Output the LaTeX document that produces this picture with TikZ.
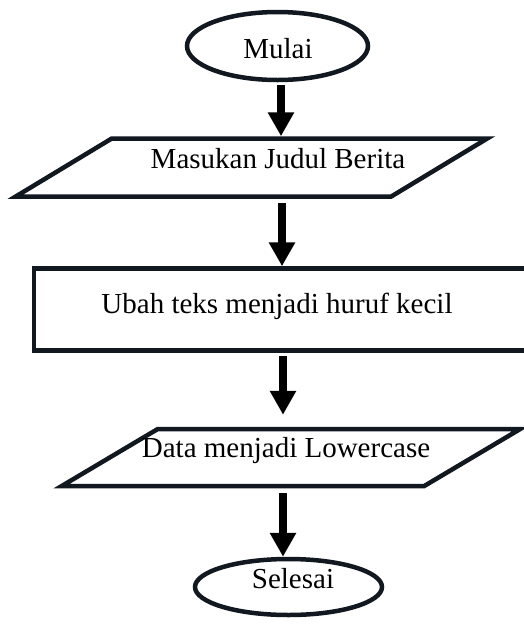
\documentclass[tikz,border=0pt]{standalone}
\usepackage{fontspec}
\setmainfont{Liberation Serif}
\usetikzlibrary{shapes.geometric,arrows.meta}
\definecolor{edge}{HTML}{111820}
\begin{document}
\begin{tikzpicture}[x=1pt,y=-1pt,
  outline/.style={draw=edge,line width=4.5pt,line join=miter},
  term/.style={outline,ellipse,inner sep=0pt},
  frame/.style={inner sep=0pt,outer sep=2.25pt},
  txt/.style={font=\fontsize{29}{34}\selectfont,inner sep=0pt,anchor=base},
  flow/.style={line width=8.5pt,-{Triangle[length=24pt,width=25pt]}}]
\useasboundingbox (0,0) rectangle (524,625);
\clip (0,0) rectangle (524,625);
\fill[white] (0,0) rectangle (524,625);

% axis of the connectors
\coordinate (axA) at (281,0);
\coordinate (axB) at (282,0);
\coordinate (axC) at (283,0);

% start terminal
\node[term,minimum width=181pt,minimum height=68pt] (start) at (277.5,46) {};
\node[txt] (tstart) at (278,58) {Mulai};

% input: news title
\node[frame,minimum width=371pt,minimum height=58pt] (in1) at (251.5,167.5) {};
\draw[outline] ([xshift=48pt,yshift=-2.25pt]in1.north west) -- ([xshift=48pt,yshift=-2.25pt]in1.north east)
  -- ([xshift=-48pt,yshift=2.25pt]in1.south east) -- ([xshift=-48pt,yshift=2.25pt]in1.south west) -- cycle;
\node[txt] (tin1) at (278,168) {Masukan Judul Berita};

% process: lowercase conversion
\node[outline,rectangle,inner sep=0pt,minimum width=506pt,minimum height=82pt] (proc) at (287,309.5) {};
\node[txt] (tproc) at (277,313) {Ubah teks menjadi huruf kecil};

% output: lowercase data
\node[frame,minimum width=358pt,minimum height=57pt] (out1) at (291,457.5) {};
\draw[outline] ([xshift=48pt,yshift=-2.25pt]out1.north west) -- ([xshift=48pt,yshift=-2.25pt]out1.north east)
  -- ([xshift=-48pt,yshift=2.25pt]out1.south east) -- ([xshift=-48pt,yshift=2.25pt]out1.south west) -- cycle;
\node[txt] (tout1) at (286,457) {Data menjadi Lowercase};

% end terminal
\node[term,minimum width=187pt,minimum height=56pt] (stop) at (288.5,587) {};
\node[txt] (tstop) at (293,588) {Selesai};

% connectors
\draw[flow] ([yshift=-3pt]start.south -| axA) -- (in1.north -| axA);
\draw[flow] ([yshift=-4.5pt]in1.south -| axB) -- (proc.north -| axB);
\draw[flow] ([yshift=-3.5pt]proc.south -| axC) -- ([yshift=12pt]out1.north -| axC);
\draw[flow] ([yshift=-4.5pt]out1.south -| axC) -- (stop.north -| axC);
\end{tikzpicture}
\end{document}
